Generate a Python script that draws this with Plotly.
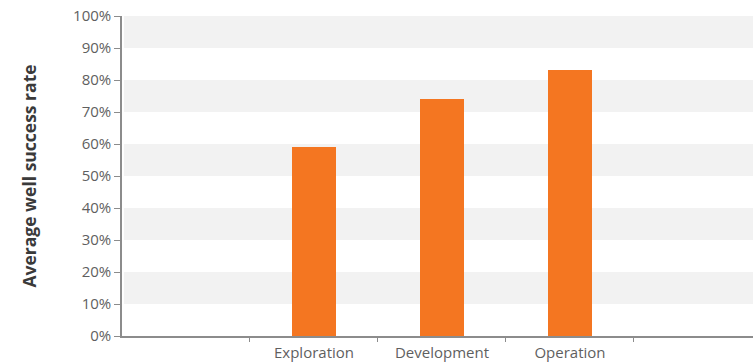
import plotly.graph_objects as go

categories = ["Exploration", "Development", "Operation"]
success_rate = [59, 74, 83]
y_ticks = list(range(0, 101, 10))
y_tick_labels = [f"{v}%" for v in y_ticks]
band_starts = [10, 30, 50, 70, 90]

x_pos = [i + 1 for i in range(len(categories))]

fig = go.Figure()
fig.add_trace(go.Bar(
    x=x_pos, y=success_rate, width=0.35,
    marker=dict(color="#F47621", line=dict(width=0)),
    hoverinfo="y",
))

shapes = []
for b in band_starts:
    shapes.append(dict(type="rect", xref="paper", yref="y", x0=0.003, x1=1,
                       y0=b, y1=b + 10, fillcolor="#F2F2F2", line=dict(width=0),
                       layer="below"))

fig.update_layout(
    width=753, height=364,
    margin=dict(l=122, r=0, t=16, b=28),
    paper_bgcolor="white", plot_bgcolor="white",
    shapes=shapes,
    showlegend=False,
    font=dict(family="Open Sans, Noto Sans, sans-serif", color="#5F5F5F", size=15),
    xaxis=dict(
        range=[-0.5, 4.43],
        tickvals=x_pos, ticktext=categories,
        ticks="", showgrid=False, zeroline=False,
        showline=True, linecolor="#8C8C8C", linewidth=1.5,
        tickfont=dict(size=15, color="#5F5F5F"),
        ticklabelstandoff=2,
        minor=dict(tickvals=[0.5, 1.5, 2.5, 3.5], ticks="outside", ticklen=4,
                   tickcolor="#8C8C8C", tickwidth=1, showgrid=False),
        automargin=False,
        fixedrange=True,
    ),
    yaxis=dict(
        range=[0, 100], tickvals=y_ticks, ticktext=y_tick_labels,
        ticks="outside", ticklen=6, tickcolor="#8C8C8C", tickwidth=1,
        showgrid=False, zeroline=False,
        showline=True, linecolor="#8C8C8C", linewidth=1.5,
        tickfont=dict(size=15, color="#5F5F5F"),
        ticklabeloverflow="allow",
        title=dict(text="<b>Average well success rate</b>",
                   font=dict(size=17.5, color="#3A3A3A"), standoff=32),
        automargin=False,
        fixedrange=True,
    ),
    bargap=0,
)

fig.write_html("out.html", config={"displayModeBar": False},
               post_script="document.body.style.margin='0';")
